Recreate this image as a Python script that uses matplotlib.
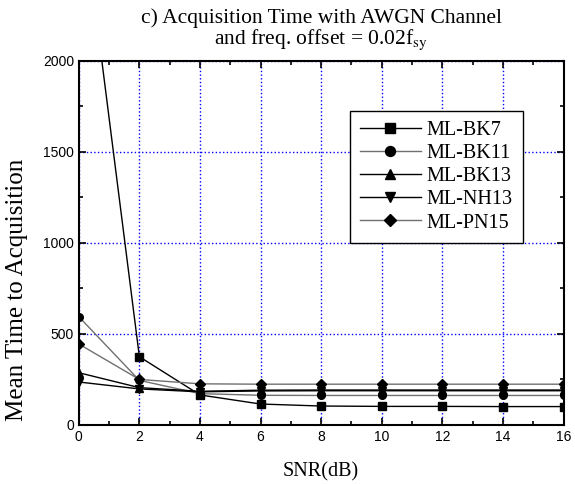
import matplotlib
matplotlib.use("Agg")
import matplotlib.pyplot as plt
from matplotlib.ticker import MultipleLocator

# data
snr = [0, 2, 4, 6, 8, 10, 12, 14, 16]
bk7 = [3000, 375, 165, 115, 104, 102, 102, 101, 101]
bk11 = [595, 245, 172, 163, 162, 162, 162, 162, 162]
bk13 = [287, 205, 185, 191, 192, 192, 192, 192, 192]
nh13 = [236, 198, 182, 187, 188, 188, 188, 188, 188]
pn15 = [445, 250, 226, 224, 224, 224, 224, 224, 224]

labels = ["ML-BK7", "ML-BK11", "ML-BK13", "ML-NH13", "ML-PN15"]
series = [bk7, bk11, bk13, nh13, pn15]
markers = ["s", "o", "^", "v", "D"]
colors = ["black", "#707070", "black", "black", "#707070"]

plt.rcParams["mathtext.fontset"] = "stix"
serif = "Liberation Serif"
sans = "Liberation Sans"

fig = plt.figure(figsize=(5.75, 4.84), dpi=100)
ax = fig.add_axes([0.137, 0.122, 0.843, 0.752])

for ys, lab, m, c in zip(series, labels, markers, colors):
    ax.plot(snr, ys, color=c, lw=1, marker=m, markersize=5.5 if m != "D" else 5,
            markerfacecolor="black", markeredgecolor="black", label=lab)

ax.set_xlim(0, 16)
ax.set_ylim(0, 2000)
ax.xaxis.set_major_locator(MultipleLocator(2))
ax.xaxis.set_minor_locator(MultipleLocator(1))
ax.yaxis.set_major_locator(MultipleLocator(500))
ax.yaxis.set_minor_locator(MultipleLocator(250))
ax.tick_params(which="both", direction="in", top=True, right=True, width=1.2)
ax.tick_params(which="major", length=5, labelsize=10)
ax.tick_params(which="minor", length=3)
for t in ax.get_xticklabels() + ax.get_yticklabels():
    t.set_family(sans)
for s in ax.spines.values():
    s.set_linewidth(1.5)

ax.grid(True, which="major", color="blue", linestyle=":", linewidth=1)
ax.set_axisbelow(True)

ax.set_xlabel("SNR(dB)", family=serif, fontsize=14.5, labelpad=13)
ax.set_ylabel("Mean Time to Acquisition", family=serif, fontsize=18)
ax.yaxis.set_label_coords(-0.105, 0.37)
ax.set_title("c) Acquisition Time with AWGN Channel\n"
             r"and freq. offset = 0.02f$_{\mathrm{sy}}$",
             family=serif, fontsize=15.5, pad=12, linespacing=1.0)

leg = ax.legend(loc="upper left", bbox_to_anchor=(0.56, 0.863),
                borderaxespad=0,
                prop={"family": serif, "size": 14.5}, handlelength=3,
                markerscale=1.3, fancybox=False, framealpha=1,
                edgecolor="black", borderpad=0.5, labelspacing=0.2,
                handletextpad=0.3)
leg.get_frame().set_linewidth(1)

fig.savefig("out.png", dpi=100)
